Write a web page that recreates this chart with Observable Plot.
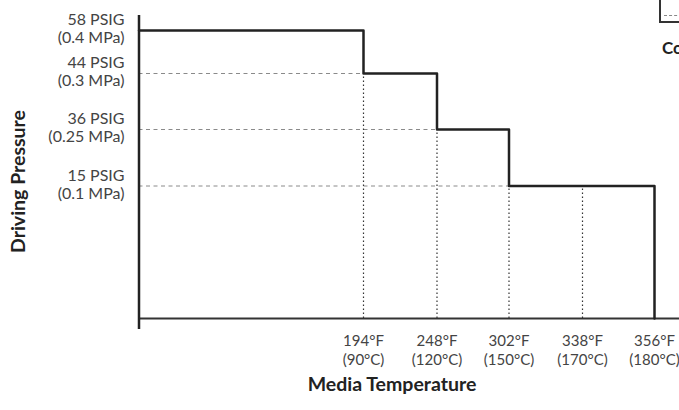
<!DOCTYPE html>
<html><head><meta charset="utf-8">
<script src="https://cdn.jsdelivr.net/npm/d3@7"></script>
<script src="https://cdn.jsdelivr.net/npm/@observablehq/plot@0.6"></script>
<style>
html,body{margin:0;padding:0;overflow:hidden;background:#fff;}
#wrap{position:relative;width:679px;height:410px;overflow:hidden;font-family:Lato,sans-serif;}
#wrap svg{display:block;}
.legend-box{position:absolute;left:659px;top:-3px;width:200px;height:24px;border-left:2px solid #333;border-bottom:2px solid #333;}
.legend-box .dash{position:absolute;left:3px;top:18px;width:150px;border-top:1px dashed #888;}
.legend-title{position:absolute;left:662px;top:37px;font:700 17px Lato,sans-serif;color:#222;white-space:nowrap;}
</style>
</head><body>
<div id="wrap">
  <div class="legend-box"><div class="dash"></div></div>
  <div class="legend-title">Conditions</div>
</div>
<script>
// Temperature tick values (°F) and their °C equivalents
const tempsF = [194, 248, 302, 338, 356];
const tempsC = [90, 120, 150, 170, 180];
// Pressure tick values (PSIG) and their MPa equivalents
const psig = [58, 44, 36, 15];
const mpa = ["0.4", "0.3", "0.25", "0.1"];
// Chart origin on the temperature axis (schematic)
const originF = 140;
// Step outline: pressure holds until each temperature, then drops
const stepTemps = [originF, 194, 248, 302, 356];
const stepPsig = [58, 44, 36, 15, 0];
// Dashed horizontal guides (pressure, ending temperature)
const hGuidePsig = [44, 36, 15];
const hGuideTemp = [194, 248, 302];
// Dotted vertical guides (temperature, top pressure)
const vGuideTemp = [194, 248, 302, 338];
const vGuidePsig = [44, 36, 15, 15];

const steps = stepTemps.map((t, i) => ({t, p: stepPsig[i]}));
const hGuides = hGuidePsig.map((p, i) => ({p, t: hGuideTemp[i]}));
const vGuides = vGuideTemp.map((t, i) => ({t, p: vGuidePsig[i]}));
const cOf = new Map(tempsF.map((f, i) => [f, tempsC[i]]));
const mOf = new Map(psig.map((p, i) => [p, mpa[i]]));

const chart = Plot.plot({
  width: 679,
  height: 410,
  marginLeft: 138,
  marginRight: 0,
  marginTop: 15,
  marginBottom: 81,
  style: {fontFamily: 'Lato, sans-serif', background: "#fff"},
  x: {type: "linear", domain: [originF, ...tempsF], range: [138.5, 363, 436.5, 508.5, 582, 654], axis: null},
  y: {type: "linear", domain: [0, ...psig.slice().reverse()], range: [318, 185.5, 129, 73, 30], axis: null},
  marks: [
    Plot.ruleY(hGuides, {y: "p", x1: () => originF, x2: "t", stroke: "#8a8a8a", strokeWidth: 1, strokeDasharray: "4,3.5"}),
    Plot.ruleX(vGuides, {x: "t", y1: () => 0, y2: "p", stroke: "#333", strokeWidth: 1.2, strokeDasharray: "1.6,2.4"}),
    Plot.ruleY([0], {stroke: "#333", strokeWidth: 2}),
    Plot.ruleX([originF], {stroke: "#222", strokeWidth: 2.5}),
    Plot.line(steps, {x: "t", y: "p", curve: "step-after", stroke: "#222", strokeWidth: 2.5}),
    Plot.axisX(tempsF, {
      tickSize: 0, tickPadding: 3, fontSize: 15, lineHeight: 1.25, fill: "#444",
      tickFormat: d => `${d}°F\n(${cOf.get(d)}°C)`, label: null
    }),
    Plot.axisY(psig, {
      tickSize: 0, tickPadding: 14, fontSize: 16, lineHeight: 1.12, fill: "#444", dy: -2,
      tickFormat: d => `${d} PSIG\n(${mOf.get(d)} MPa)`, label: null
    }),
    Plot.text(["Media Temperature"], {frameAnchor: "bottom", dy: 61, dx: -17, fontSize: 19.5, fontWeight: 700, fill: "#222"}),
    Plot.text(["Driving Pressure"], {frameAnchor: "left", textAnchor: "middle", rotate: -90, dx: -119.5, dy: 9, fontSize: 19.5, fontWeight: 700, fill: "#222"})
  ]
});
document.getElementById("wrap").prepend(chart);
</script>
</body></html>
